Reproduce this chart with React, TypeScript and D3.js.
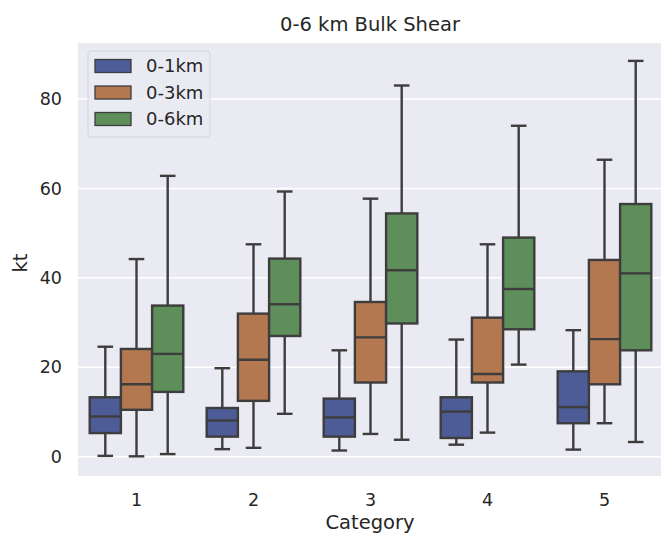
import { useEffect, useRef } from "react";
import * as d3 from "d3";

const categories = ["1", "2", "3", "4", "5"];
const seriesNames = ["0-1km", "0-3km", "0-6km"];
const seriesColors = ["#4d5b97", "#b47851", "#5e8f5b"];
const yTicks = [0, 20, 40, 60, 80];

// [low whisker, Q1, median, Q3, high whisker] per category
const shear01 = [
  [0.2, 5.3, 9.0, 13.3, 24.6],
  [1.7, 4.5, 8.1, 10.9, 19.8],
  [1.4, 4.5, 8.8, 13.0, 23.8],
  [2.7, 4.2, 10.1, 13.3, 26.2],
  [1.6, 7.5, 11.1, 19.1, 28.3],
];
const shear03 = [
  [0.1, 10.5, 16.2, 24.1, 44.2],
  [2.0, 12.5, 21.7, 32.0, 47.5],
  [5.1, 16.6, 26.7, 34.6, 57.7],
  [5.4, 16.6, 18.5, 31.1, 47.5],
  [7.5, 16.2, 26.3, 44.0, 66.4],
];
const shear06 = [
  [0.6, 14.5, 23.0, 33.8, 62.8],
  [9.6, 27.0, 34.1, 44.3, 59.3],
  [3.8, 29.8, 41.7, 54.4, 83.0],
  [20.6, 28.5, 37.5, 49.0, 74.0],
  [3.3, 23.8, 41.0, 56.5, 88.5],
];
const seriesData = [shear01, shear03, shear06];

export default function App() {
  const ref = useRef<SVGSVGElement>(null);

  useEffect(() => {
    const svg = d3.select(ref.current);
    svg.selectAll("*").remove();

    const width = 661, height = 534;
    const left = 78, right = 663, top = 43, bottom = 476;
    const font = "DejaVu Sans, sans-serif";
    const edge = "#3d3d3d";

    const x = d3.scaleBand().domain(categories).range([left, right]).paddingInner(0).paddingOuter(0);
    const y = d3.scaleLinear().domain([-4.3, 92.5]).range([bottom, top]);
    const hue = d3.scaleBand().domain(seriesNames).range([0, x.bandwidth() * 0.8]);

    svg.attr("width", width).attr("height", height);

    svg.append("rect")
      .attr("x", left).attr("y", top)
      .attr("width", right - left).attr("height", bottom - top)
      .attr("fill", "#eaeaf2");

    svg.append("g").selectAll("line").data(yTicks).join("line")
      .attr("x1", left).attr("x2", right)
      .attr("y1", d => y(d)).attr("y2", d => y(d))
      .attr("stroke", "#fff").attr("stroke-width", 1.5);

    svg.append("g").selectAll("text").data(yTicks).join("text")
      .attr("x", left - 16).attr("y", d => y(d)).attr("dy", "0.35em")
      .attr("text-anchor", "end").attr("font-family", font).attr("font-size", 17.5)
      .attr("fill", "#262626").text(d => d);

    svg.append("g").selectAll("text").data(categories).join("text")
      .attr("x", d => x(d)! + x.bandwidth() / 2).attr("y", 500).attr("dy", "0.35em")
      .attr("text-anchor", "middle").attr("font-family", font).attr("font-size", 17.5)
      .attr("fill", "#262626").text(d => d);

    svg.append("text")
      .attr("x", 370).attr("y", 529)
      .attr("text-anchor", "middle").attr("font-family", font).attr("font-size", 19.5)
      .attr("fill", "#262626").text("Category");

    svg.append("text")
      .attr("transform", "translate(27,263) rotate(-90)")
      .attr("text-anchor", "middle").attr("font-family", font).attr("font-size", 19.5)
      .attr("fill", "#262626").text("kt");

    svg.append("text")
      .attr("x", 370).attr("y", 31)
      .attr("text-anchor", "middle").attr("font-family", font).attr("font-size", 19.5)
      .attr("fill", "#262626").text("0-6 km Bulk Shear");

    const lw = 2.4;
    seriesData.forEach((series, si) => {
      const g = svg.append("g");
      series.forEach((s, ci) => {
        const [lo, q1, med, q3, hi] = s;
        const x0 = x(categories[ci])! + x.bandwidth() * 0.1 + hue(seriesNames[si])!;
        const w = hue.bandwidth();
        const cx = x0 + w / 2;
        const cap = w / 4;
        g.append("line").attr("x1", cx).attr("x2", cx).attr("y1", y(q3)).attr("y2", y(hi))
          .attr("stroke", edge).attr("stroke-width", lw);
        g.append("line").attr("x1", cx).attr("x2", cx).attr("y1", y(q1)).attr("y2", y(lo))
          .attr("stroke", edge).attr("stroke-width", lw);
        g.append("line").attr("x1", cx - cap).attr("x2", cx + cap).attr("y1", y(hi)).attr("y2", y(hi))
          .attr("stroke", edge).attr("stroke-width", lw);
        g.append("line").attr("x1", cx - cap).attr("x2", cx + cap).attr("y1", y(lo)).attr("y2", y(lo))
          .attr("stroke", edge).attr("stroke-width", lw);
        g.append("rect").attr("x", x0).attr("y", y(q3))
          .attr("width", w).attr("height", y(q1) - y(q3))
          .attr("fill", seriesColors[si]).attr("stroke", edge).attr("stroke-width", lw);
        g.append("line").attr("x1", x0).attr("x2", x0 + w).attr("y1", y(med)).attr("y2", y(med))
          .attr("stroke", edge).attr("stroke-width", lw);
      });
    });

    const lg = svg.append("g");
    lg.append("rect").attr("x", 88).attr("y", 51).attr("width", 122).attr("height", 86).attr("rx", 3)
      .attr("fill", "#eaeaf2").attr("fill-opacity", 0.8).attr("stroke", "#d4d4dc");
    seriesNames.forEach((n, i) => {
      const cy = 66 + i * 26.5;
      lg.append("rect").attr("x", 95).attr("y", cy - 6.5).attr("width", 36).attr("height", 13)
        .attr("fill", seriesColors[i]).attr("stroke", edge).attr("stroke-width", 1.3);
      lg.append("text").attr("x", 146).attr("y", cy).attr("dy", "0.35em")
        .attr("font-family", font).attr("font-size", 18).attr("fill", "#262626").text(n);
    });
  }, []);

  return <svg ref={ref} style={{ position: "absolute", left: 0, top: 0 }} />;
}
